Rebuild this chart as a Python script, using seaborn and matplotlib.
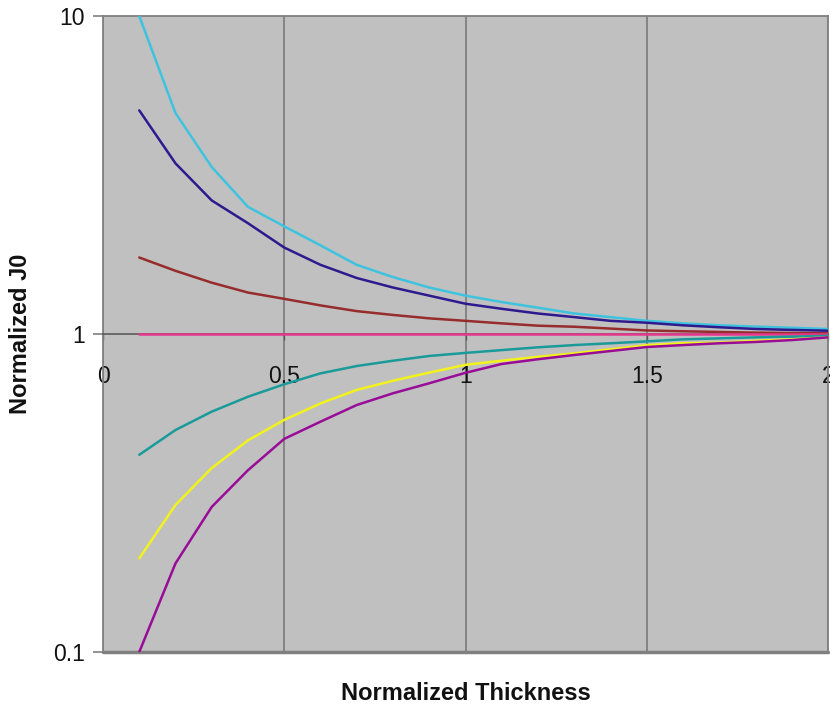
import matplotlib
matplotlib.use("Agg")
import matplotlib.pyplot as plt
import numpy as np
import pandas as pd
import seaborn as sns
from matplotlib.ticker import NullLocator

# ---- data ----
thickness = [0.1, 0.2, 0.3, 0.4, 0.5, 0.6, 0.7, 0.8, 0.9, 1.0,
             1.1, 1.2, 1.3, 1.4, 1.5, 1.6, 1.7, 1.8, 1.9, 2.0]

j0_cyan   = [10.0, 4.95, 3.35, 2.51, 2.18, 1.90, 1.65, 1.51, 1.40, 1.32,
             1.26, 1.21, 1.16, 1.13, 1.10, 1.08, 1.065, 1.055, 1.046, 1.037]
j0_navy   = [5.05, 3.44, 2.63, 2.23, 1.87, 1.65, 1.50, 1.40, 1.32, 1.245,
             1.20, 1.16, 1.13, 1.10, 1.085, 1.065, 1.05, 1.037, 1.03, 1.024]
j0_red    = [1.74, 1.58, 1.45, 1.35, 1.29, 1.23, 1.18, 1.148, 1.12, 1.10,
             1.08, 1.062, 1.054, 1.04, 1.026, 1.02, 1.015, 1.01, 1.007, 1.005]
j0_pink   = [1.0] * 20
j0_teal   = [0.417, 0.499, 0.57, 0.635, 0.695, 0.752, 0.793, 0.824, 0.853, 0.872,
             0.89, 0.908, 0.923, 0.935, 0.948, 0.962, 0.969, 0.976, 0.981, 0.986]
j0_yellow = [0.197, 0.29, 0.379, 0.463, 0.537, 0.605, 0.667, 0.713, 0.756, 0.80,
             0.824, 0.848, 0.869, 0.895, 0.922, 0.935, 0.939, 0.952, 0.962, 0.976]
j0_purple = [0.10, 0.19, 0.286, 0.373, 0.468, 0.53, 0.598, 0.651, 0.70, 0.755,
             0.805, 0.833, 0.859, 0.884, 0.91, 0.923, 0.935, 0.944, 0.957, 0.976]

series_names = ["cyan", "navy", "red", "pink", "teal", "yellow", "purple"]
series_values = [j0_cyan, j0_navy, j0_red, j0_pink, j0_teal, j0_yellow, j0_purple]
series_colors = ["#3EC3DE", "#2E1A8E", "#962C2C", "#E5388C", "#1B9A9A", "#F2F21C", "#980C98"]

x_tick_values = [0, 0.5, 1, 1.5, 2]
x_tick_labels = ["0", "0.5", "1", "1.5", "2"]
y_tick_values = [0.1, 1, 10]
y_tick_labels = ["0.1", "1", "10"]

df = pd.DataFrame({
    "thickness": np.tile(thickness, len(series_names)),
    "j0": np.concatenate(series_values),
    "series": np.repeat(series_names, len(thickness)),
})

# ---- style ----
sns.set_theme(style="white")
plt.rcParams["font.family"] = ["Liberation Sans", "DejaVu Sans"]

W, H = 830, 708
fig = plt.figure(figsize=(W / 100, H / 100), dpi=100)
left, right, top, bottom = 103, 828, 16, 652
ax = fig.add_axes([left / W, 1 - bottom / H, (right - left) / W, (bottom - top) / H])

sns.lineplot(data=df, x="thickness", y="j0", hue="series", hue_order=series_names,
             palette=series_colors, linewidth=1.8, legend=False, ax=ax,
             estimator=None, sort=False, zorder=3)

ax.set_yscale("log")
ax.set_xlim(0, 2)
ax.set_ylim(0.1, 10)
ax.set_facecolor("#C0C0C0")

ax.set_xticks(x_tick_values)
ax.set_xticklabels(x_tick_labels)
ax.set_yticks(y_tick_values)
ax.set_yticklabels(y_tick_labels)
ax.yaxis.set_minor_locator(NullLocator())
ax.xaxis.set_minor_locator(NullLocator())

ax.grid(False)
ax.xaxis.grid(True, color="#7F7F7F", linewidth=1.3)
ax.set_axisbelow(True)

grey = "#808080"
ax.spines["bottom"].set_position(("data", 1))
ax.spines["bottom"].set_color("#5A5A5A")
ax.spines["bottom"].set_linewidth(1.2)
for s in ["left", "top", "right"]:
    ax.spines[s].set_color(grey)
    ax.spines[s].set_linewidth(1.3)
ax.axhline(0.1, color=grey, linewidth=2.5, clip_on=False, zorder=0.5)

ax.tick_params(axis="y", which="major", direction="out", length=7, width=1.2,
               color=grey, pad=6, labelsize=16.5, labelcolor="#111111", left=True)
ax.tick_params(axis="x", which="major", direction="out", length=4, width=1.0,
               color="#5A5A5A", pad=18, labelsize=16.5, labelcolor="#111111", bottom=True)

ax.set_xlabel("Normalized Thickness", fontsize=17, fontweight="bold", color="#111111")
ax.set_ylabel("Normalized J0", fontsize=17, fontweight="bold", color="#111111")
ax.xaxis.set_label_coords(0.5, (bottom - 682) / (bottom - top))
ax.yaxis.set_label_coords((32 - left) / (right - left), 0.5)

fig.savefig("out.png", dpi=100, facecolor="white")
